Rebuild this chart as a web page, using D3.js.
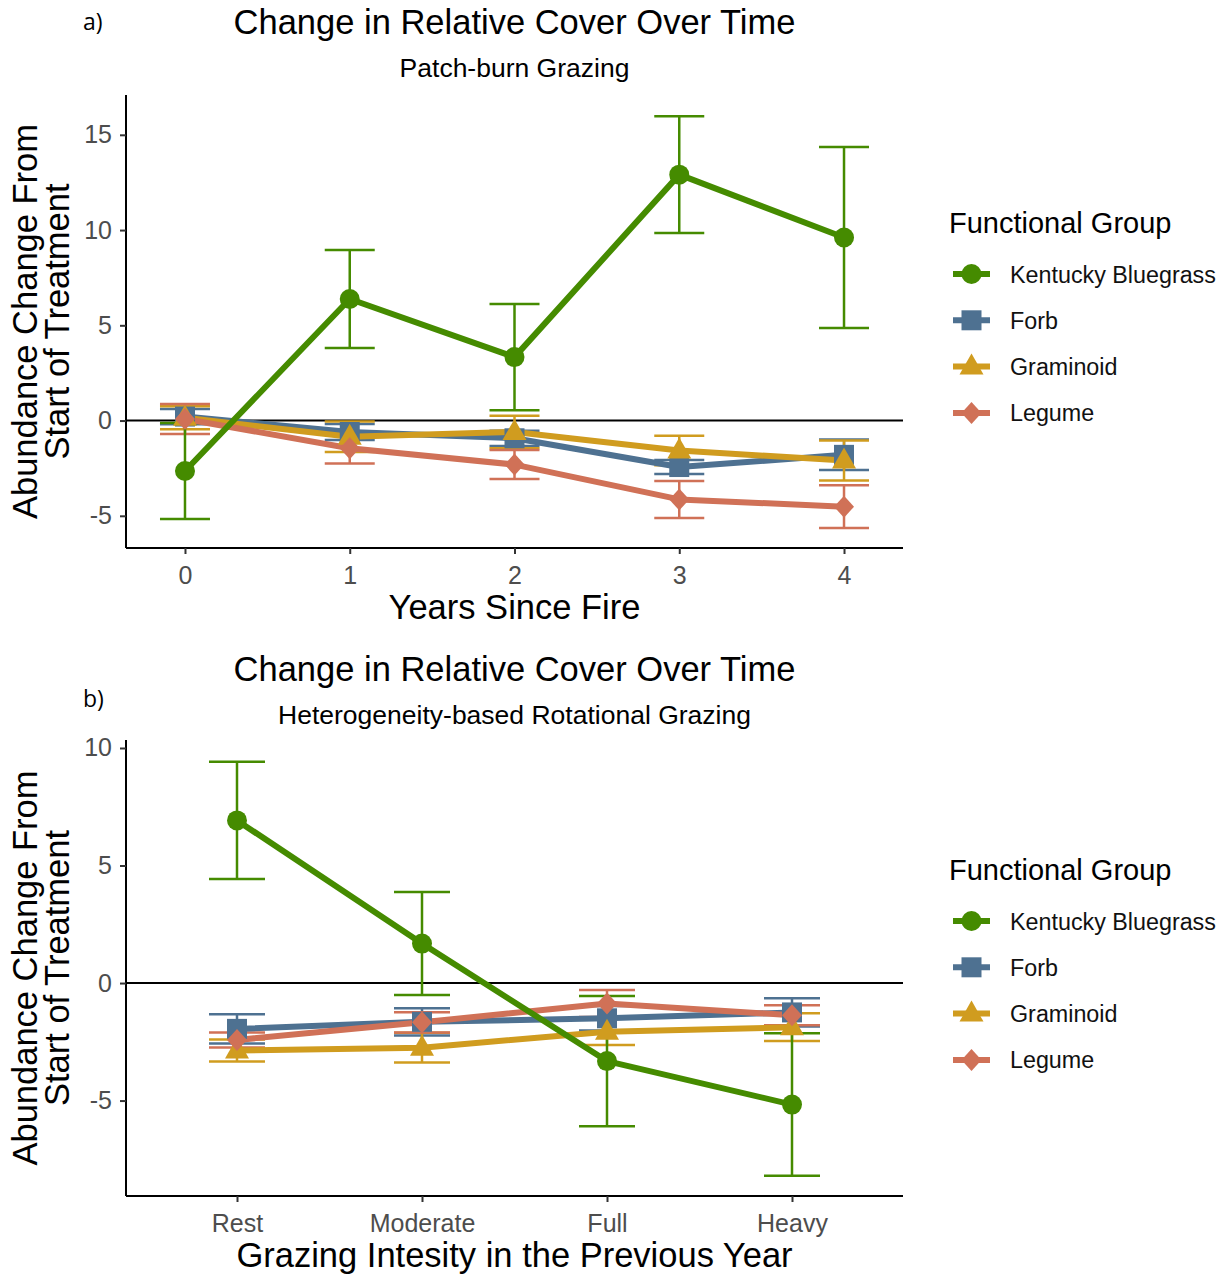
<!DOCTYPE html>
<html><head><meta charset="utf-8">
<script src="https://cdn.jsdelivr.net/npm/d3@7"></script>
<style>body{margin:0;background:#fff}text{font-family:"Liberation Sans",Arial,sans-serif}</style>
</head><body><svg id="c" width="1222" height="1274"></svg>
<script>
// ---------- data ----------
const groups = ["Kentucky Bluegrass","Forb","Graminoid","Legume"];
const yearsA = [0,1,2,3,4];
const yTicksA = [-5,0,5,10,15];
const kbA = [-2.65,6.38,3.33,12.91,9.61];
const kbAerr = [2.52,2.57,2.79,3.07,4.75];
const forbA = [0.21,-0.6,-0.93,-2.44,-1.8];
const forbAerr = [0.4,0.42,0.4,0.37,0.8];
const gramA = [0.15,-0.85,-0.6,-1.57,-2.1];
const gramAerr = [0.6,0.8,0.85,0.77,1.05];
const legA = [0.08,-1.45,-2.31,-4.14,-4.52];
const legAerr = [0.79,0.8,0.76,0.97,1.12];

const intensityB = ["Rest","Moderate","Full","Heavy"];
const yTicksB = [-5,0,5,10];
const kbB = [6.92,1.68,-3.32,-5.17];
const kbBerr = [2.49,2.19,2.77,3.03];
const forbB = [-1.95,-1.65,-1.5,-1.25];
const forbBerr = [0.62,0.58,0.52,0.6];
const gramB = [-2.87,-2.75,-2.07,-1.88];
const gramBerr = [0.47,0.63,0.57,0.59];
const legB = [-2.42,-1.67,-0.87,-1.37];
const legBerr = [0.32,0.43,0.57,0.43];

// ---------- styles ----------
const colors = ["#458B00","#4E7191","#D09C1F","#D07157"];
const shapes = ["circle","square","triangle","diamond"];
const svg = d3.select("#c");

function shapePath(s){
  if(s==="circle") return d3.symbol(d3.symbolCircle, Math.PI*10*10)();
  if(s==="square") return "M-10,-10H10V10H-10Z";
  if(s==="triangle") return "M0,-13L12,8H-12Z";
  return "M0,-11L10,0L0,11L-10,0Z";
}
const fmt = v => (typeof v === "number" ? String(v) : v);

function panel(o){
  const g = svg.append("g");
  const x = o.x, y = o.y;
  const [x0,x1] = x.range(); const [yb,yt] = y.range();
  g.append("line").attr("x1",x0).attr("x2",x1).attr("y1",y(0)).attr("y2",y(0))
    .attr("stroke","#000").attr("stroke-width",2);
  const series = o.series;
  const order = [1,2,3,0];
  order.forEach(i=>{
    const s = series[i];
    o.cats.forEach((c,j)=>{
      const cx = x(c), lo = y(s.m[j]-s.e[j]), hi = y(s.m[j]+s.e[j]);
      const eg = g.append("g").attr("stroke",colors[i]).attr("stroke-width",2.5);
      eg.append("line").attr("x1",cx).attr("x2",cx).attr("y1",lo).attr("y2",hi);
      eg.append("line").attr("x1",cx-o.cap).attr("x2",cx+o.cap).attr("y1",lo).attr("y2",lo);
      eg.append("line").attr("x1",cx-o.cap).attr("x2",cx+o.cap).attr("y1",hi).attr("y2",hi);
    });
  });
  order.forEach(i=>{
    const s = series[i];
    g.append("path").datum(o.cats.map((c,j)=>[x(c),y(s.m[j])]))
      .attr("d",d3.line()).attr("fill","none").attr("stroke",colors[i])
      .attr("stroke-width",6).attr("stroke-linejoin","round");
  });
  order.forEach(i=>{
    const s = series[i];
    o.cats.forEach((c,j)=>{
      g.append("path").attr("d",shapePath(shapes[i]))
        .attr("transform",`translate(${x(c)},${y(s.m[j])})`).attr("fill",colors[i]);
    });
  });
  const ax = g.append("g").attr("transform",`translate(0,${yb})`)
    .call(d3.axisBottom(x).tickValues(o.cats).tickFormat(fmt).tickSize(6).tickPadding(12).tickSizeOuter(0));
  const ay = g.append("g").attr("transform",`translate(${x0},0)`)
    .call(d3.axisLeft(y).tickValues(o.yTicks).tickFormat(fmt).tickSize(6).tickPadding(8).tickSizeOuter(0));
  [ax,ay].forEach(a=>{
    a.select(".domain").attr("stroke","#000").attr("stroke-width",2);
    a.selectAll(".tick line").attr("stroke","#333").attr("stroke-width",2);
    a.selectAll(".tick text").attr("fill","#4D4D4D").style("font-size","25px")
      .style("font-family","'Liberation Sans',Arial,sans-serif");
  });
  ax.select(".domain").attr("d",`M${x0},0H${x1}`);
  ay.select(".domain").attr("d",`M0,${yb}V${yt}`);
  const cx = (x0+x1)/2;
  g.append("text").attr("x",cx).attr("y",o.titleY).attr("text-anchor","middle")
    .style("font-size","34.5px").text("Change in Relative Cover Over Time");
  g.append("text").attr("x",cx).attr("y",o.titleY+43).attr("text-anchor","middle")
    .style("font-size","26.5px").text(o.subtitle);
  g.append("text").attr("x",cx).attr("y",o.xTitleY).attr("text-anchor","middle")
    .style("font-size","34.5px").text(o.xTitle);
  const ym = (yb+yt)/2;
  const yt1 = g.append("text").attr("transform",`translate(37,${ym}) rotate(-90)`)
    .attr("text-anchor","middle").style("font-size","34.5px");
  yt1.append("tspan").attr("x",0).attr("y",0).text("Abundance Change From");
  yt1.append("tspan").attr("x",0).attr("y",32).text("Start of Treatment");
  g.append("text").attr("x",83).attr("y",o.tagY).style("font-size","23px")
    .style("font-family","'Open Sans',sans-serif").text(o.tag);
  const lg = g.append("g");
  lg.append("text").attr("x",949).attr("y",o.legY).style("font-size","29px").text("Functional Group");
  groups.forEach((nm,i)=>{
    const ky = o.legY + 41 + i*46.3;
    lg.append("line").attr("x1",953).attr("x2",990).attr("y1",ky).attr("y2",ky)
      .attr("stroke",colors[i]).attr("stroke-width",6);
    lg.append("path").attr("d",shapePath(shapes[i])).attr("transform",`translate(971.5,${ky})`)
      .attr("fill",colors[i]);
    lg.append("text").attr("x",1010).attr("y",ky+8.5).style("font-size","23.3px").attr("fill","#111").text(nm);
  });
}

panel({
  cats: yearsA,
  x: d3.scaleLinear().domain([-0.358,4.358]).range([126,903]),
  y: d3.scaleLinear().domain([-6.69,17.09]).range([548,95]),
  yTicks: yTicksA,
  series: [{m:kbA,e:kbAerr},{m:forbA,e:forbAerr},{m:gramA,e:gramAerr},{m:legA,e:legAerr}],
  cap: 25, titleY: 34, subtitle: "Patch-burn Grazing", xTitle: "Years Since Fire", xTitleY: 619,
  tag: "a)", tagY: 30, legY: 233
});
panel({
  cats: intensityB,
  x: d3.scalePoint().domain(intensityB).range([126,903]).padding(0.6),
  y: d3.scaleLinear().domain([-9.06,10.34]).range([1196,740]),
  yTicks: yTicksB,
  series: [{m:kbB,e:kbBerr},{m:forbB,e:forbBerr},{m:gramB,e:gramBerr},{m:legB,e:legBerr}],
  cap: 28, titleY: 681, subtitle: "Heterogeneity-based Rotational Grazing",
  xTitle: "Grazing Intesity in the Previous Year", xTitleY: 1267,
  tag: "b)", tagY: 707, legY: 880
});
</script></body></html>
